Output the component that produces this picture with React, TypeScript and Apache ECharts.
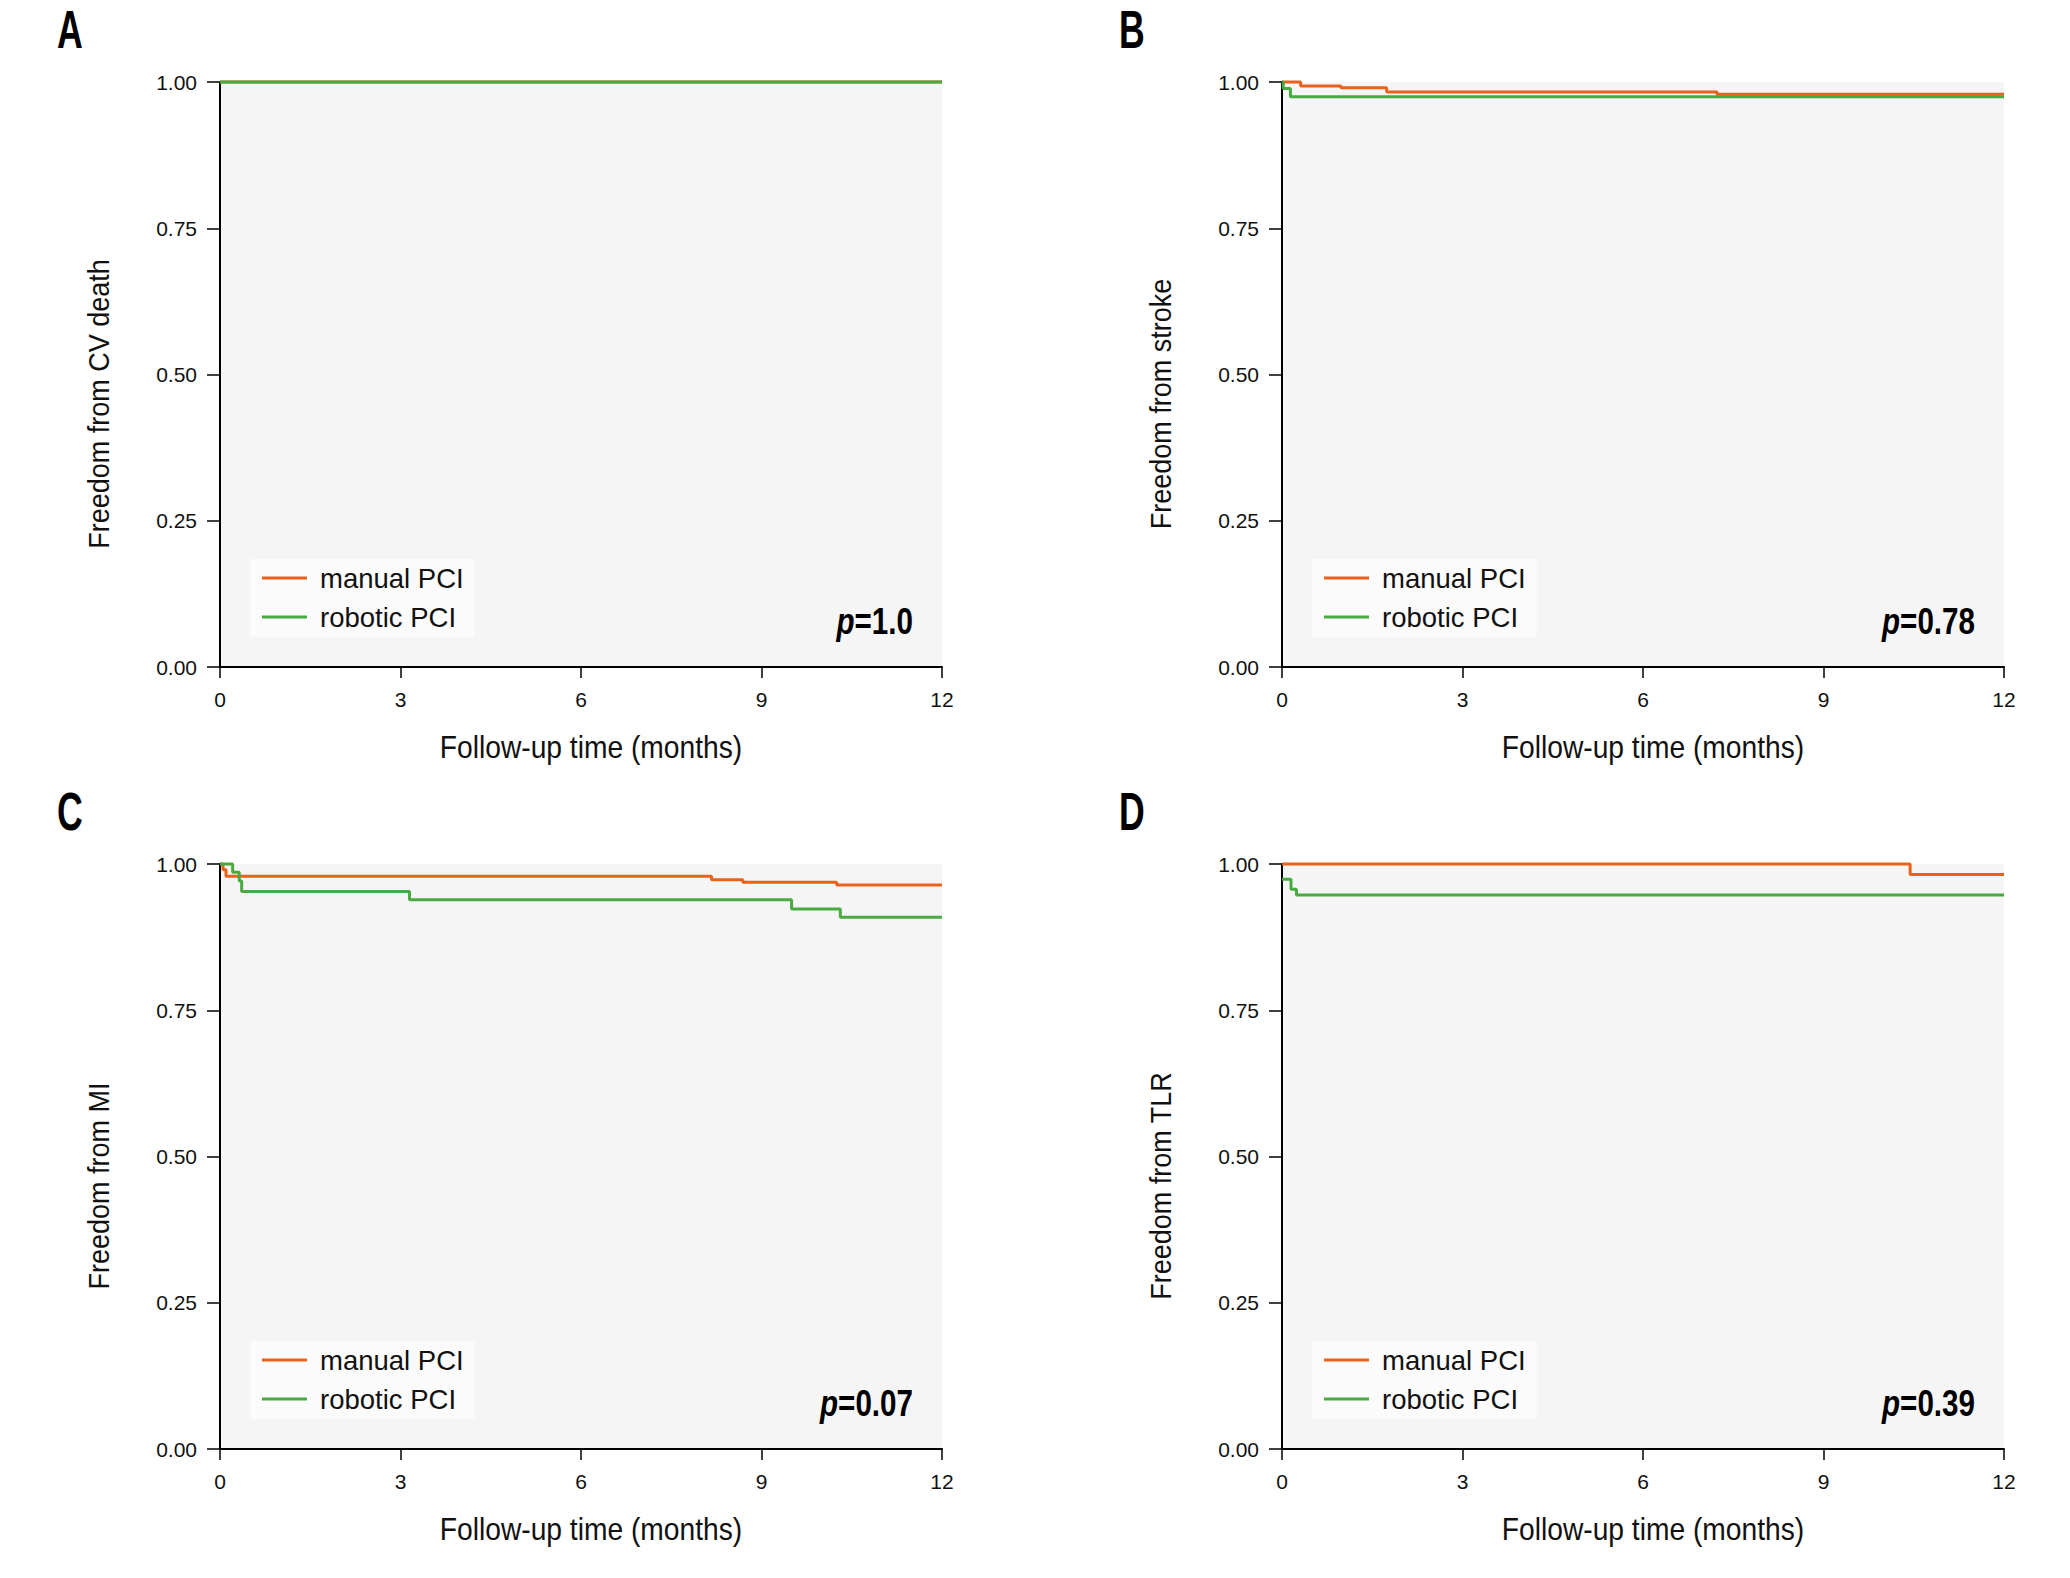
import React, { useEffect, useRef } from 'react';
import * as echarts from 'echarts';

// ---------- data ----------
const panelLetters = ['A', 'B', 'C', 'D'];
const yTitles = ['Freedom from CV death', 'Freedom from stroke', 'Freedom from MI', 'Freedom from TLR'];
const pValues = ['1.0', '0.78', '0.07', '0.39'];
const xTitle = 'Follow-up time (months)';
const seriesNames = ['manual PCI', 'robotic PCI'];
const seriesColors = ['#e8621d', '#4aaa42'];

// time (months) and survival probability, Kaplan-Meier steps
const manualA_t = [0, 12];
const manualA_s = [1, 1];
const roboticA_t = [0, 12];
const roboticA_s = [1, 1];

const manualB_t = [0, 0.31, 0.98, 1.74, 7.23, 12];
const manualB_s = [1, 0.993, 0.99, 0.983, 0.979, 0.979];
const roboticB_t = [0, 0.02, 0.14, 12];
const roboticB_s = [1, 0.989, 0.975, 0.975];

const manualC_t = [0, 0.05, 0.1, 8.17, 8.69, 10.25, 12];
const manualC_s = [1, 0.99, 0.979, 0.973, 0.969, 0.964, 0.964];
const roboticC_t = [0, 0.21, 0.32, 0.36, 3.15, 9.5, 10.31, 12];
const roboticC_s = [1, 0.986, 0.971, 0.953, 0.939, 0.923, 0.909, 0.909];

const manualD_t = [0, 10.44, 12];
const manualD_s = [1, 0.982, 0.982];
const roboticD_t = [0, 0.15, 0.24, 12];
const roboticD_s = [0.974, 0.957, 0.947, 0.947];

const manualT = [manualA_t, manualB_t, manualC_t, manualD_t];
const manualS = [manualA_s, manualB_s, manualC_s, manualD_s];
const roboticT = [roboticA_t, roboticB_t, roboticC_t, roboticD_t];
const roboticS = [roboticA_s, roboticB_s, roboticC_s, roboticD_s];

const xMin = 0;
const xMax = 12;
const xInterval = 3;
const yMin = 0;
const yMax = 1;
const yInterval = 0.25;

// ---------- layout ----------
const W = 722;
const H = 585;
const GRIDS = [
  { left: 220, top: 82 },
  { left: 1282, top: 82 },
  { left: 220, top: 864 },
  { left: 1282, top: 864 },
];
const SANS = '"Liberation Sans", Arial, sans-serif';

const zip = (t: number[], s: number[]) => t.map((v, i) => [v, s[i]]);

export default function App() {
  const ref = useRef<HTMLDivElement>(null);

  useEffect(() => {
    document.body.style.margin = '0';
    if (!ref.current) return;
    const chart = echarts.init(ref.current, undefined, { renderer: 'svg' });

    const grid: any[] = [];
    const xAxis: any[] = [];
    const yAxis: any[] = [];
    const series: any[] = [];
    const legend: any[] = [];
    const graphic: any[] = [];

    GRIDS.forEach((g, i) => {
      grid.push({
        left: g.left,
        top: g.top,
        width: W,
        height: H,
        show: true,
        backgroundColor: '#f5f5f5',
        borderWidth: 0,
      });
      xAxis.push({
        type: 'value',
        gridIndex: i,
        min: xMin,
        max: xMax,
        interval: xInterval,
        axisLine: { show: true, onZero: false, lineStyle: { color: '#000', width: 2 } },
        axisTick: { show: true, length: 11, lineStyle: { color: '#000', width: 1.5 } },
        axisLabel: { margin: 22, fontFamily: SANS, fontSize: 21, color: '#111' },
        splitLine: { show: false },
      });
      yAxis.push({
        type: 'value',
        gridIndex: i,
        min: yMin,
        max: yMax,
        interval: yInterval,
        axisLine: { show: true, onZero: false, lineStyle: { color: '#000', width: 2 } },
        axisTick: { show: true, length: 13, lineStyle: { color: '#000', width: 1.5 } },
        axisLabel: {
          margin: 23,
          fontFamily: SANS,
          fontSize: 21,
          color: '#111',
          formatter: (v: number) => v.toFixed(2),
        },
        splitLine: { show: false },
      });
      const tsets = [manualT[i], roboticT[i]];
      const ssets = [manualS[i], roboticS[i]];
      seriesNames.forEach((name, k) => {
        series.push({
          type: 'line',
          name,
          xAxisIndex: i,
          yAxisIndex: i,
          step: 'end',
          symbol: 'none',
          showSymbol: false,
          clip: false,
          lineStyle: { width: 3, color: seriesColors[k] },
          itemStyle: { color: seriesColors[k] },
          data: zip(tsets[k], ssets[k]),
        });
      });
      legend.push({
        data: seriesNames,
        orient: 'vertical',
        left: g.left + 30,
        top: g.top + H - 108,
        icon: 'rect',
        itemWidth: 45,
        itemHeight: 3,
        itemGap: 9,
        padding: [4, 11, 5, 12],
        backgroundColor: '#fbfbfb',
        selectedMode: false,
        textStyle: {
          fontFamily: SANS,
          fontSize: 27.5,
          lineHeight: 30,
          color: '#111',
          padding: [0, 0, 0, 8],
        },
      });
      // panel letter
      graphic.push({
        type: 'text',
        x: g.left - 163,
        y: g.top - 52,
        scaleX: 0.66,
        style: {
          text: panelLetters[i],
          fontFamily: SANS,
          fontWeight: 'bold',
          fontSize: 54,
          fill: '#000',
          textAlign: 'left',
          textVerticalAlign: 'middle',
        },
      });
      // y title
      graphic.push({
        type: 'text',
        x: g.left - 122,
        y: g.top + 322,
        rotation: Math.PI / 2,
        scaleX: 0.9,
        style: {
          text: yTitles[i],
          fontFamily: SANS,
          fontSize: 30,
          fill: '#111',
          textAlign: 'center',
          textVerticalAlign: 'middle',
        },
      });
      // x title
      graphic.push({
        type: 'text',
        x: g.left + W / 2 + 10,
        y: g.top + H + 80,
        scaleX: 0.91,
        style: {
          text: xTitle,
          fontFamily: SANS,
          fontSize: 31,
          fill: '#111',
          textAlign: 'center',
          textVerticalAlign: 'middle',
        },
      });
      // p value
      graphic.push({
        type: 'text',
        x: g.left + W - 29,
        y: g.top + H - 46,
        z: 10,
        scaleX: 0.8,
        style: {
          text: '{i|p}{b|=' + pValues[i] + '}',
          textAlign: 'right',
          textVerticalAlign: 'middle',
          rich: {
            i: { fontFamily: SANS, fontSize: 37, fontWeight: 'bold', fontStyle: 'italic', fill: '#000' },
            b: { fontFamily: SANS, fontSize: 37, fontWeight: 'bold', fill: '#000' },
          },
        },
      });
    });

    chart.setOption({
      animation: false,
      backgroundColor: '#ffffff',
      grid,
      xAxis,
      yAxis,
      series,
      legend,
      graphic,
    });

    return () => chart.dispose();
  }, []);

  return <div ref={ref} style={{ width: 2070, height: 1578 }} />;
}
